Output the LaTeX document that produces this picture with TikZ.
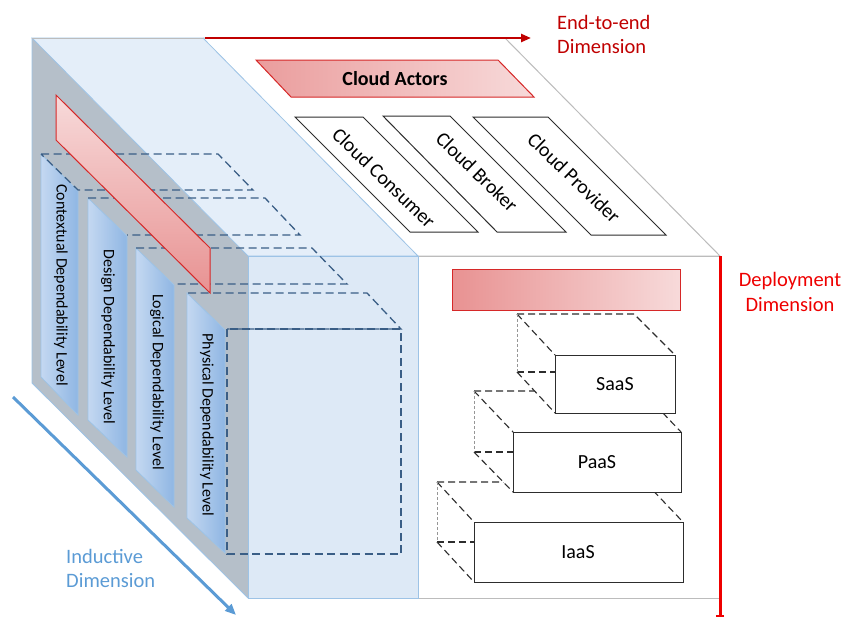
\documentclass[tikz,border=0pt]{standalone}
\usepackage{fontspec}
\setmainfont{Carlito}
\usetikzlibrary{arrows.meta}

\definecolor{sidegray}{RGB}{181,191,201}
\definecolor{topblue}{RGB}{228,238,249}
\definecolor{frontblue}{RGB}{221,233,246}
\definecolor{edgeblue}{RGB}{157,195,230}
\definecolor{planeblue}{RGB}{58,94,134}
\definecolor{stripL}{RGB}{196,216,241}
\definecolor{stripR}{RGB}{143,182,227}
\definecolor{pinkL}{RGB}{247,218,218}
\definecolor{pinkD}{RGB}{232,146,146}
\definecolor{barred}{RGB}{214,40,40}
\definecolor{darkred}{RGB}{192,0,0}
\definecolor{brightred}{RGB}{238,0,0}
\definecolor{office}{RGB}{91,155,213}
\definecolor{rimgray}{RGB}{188,188,188}
\definecolor{boxline}{RGB}{45,45,45}

\begin{document}
\begin{tikzpicture}[x=1pt,y=-1pt,
  rim/.style={draw=rimgray,line width=1pt},
  blueedge/.style={draw=edgeblue,line width=0.8pt},
  strip/.style={left color=stripL,right color=stripR,draw=edgeblue,line width=0.8pt},
  planeline/.style={draw=planeblue,line width=1.3pt,dash pattern=on 8pt off 4.5pt},
  redshape/.style={draw=barred,line width=1pt},
  actorbox/.style={draw=boxline,fill=white,line width=1pt},
  leveltext/.style={rotate=-90,inner sep=0pt,font=\fontsize{16}{19}\selectfont},
  actortext/.style={rotate=-44,inner sep=0pt,font=\fontsize{20}{24}\selectfont},
  boxtext/.style={inner sep=0pt,font=\fontsize{20}{24}\selectfont},
  dimtext/.style={inner sep=0pt,align=left,font=\fontsize{20.5}{24.5}\selectfont},
  hidden/.style={draw=boxline,line width=1.1pt,dash pattern=on 7pt off 4pt},
  hiddenlight/.style={draw=boxline!50,line width=0.8pt,dash pattern=on 3pt off 2pt},
]
\useasboundingbox (0,0) rectangle (859,619);

% ---------- cube faces ----------
% left (side) face
\fill[sidegray] (32,38) -- (248,256) -- (248,598) -- (32,383) -- cycle;
\draw[blueedge] (32,38) -- (32,383) -- (248,598);
% top face, white right part
\fill[white] (203,38) -- (505,38) -- (720,256) -- (418,256) -- cycle;
\draw[rim] (203,38) -- (505,38) -- (720,256) -- (418,256);
% top face, blue left part
\filldraw[fill=topblue,draw=edgeblue,line width=0.8pt] (32,38) -- (203,38) -- (418,256) -- (248,256) -- cycle;
\draw[rim] (32,38) -- (203,38);
% front face, white right part
\draw[rim] (418,256) -- (720,256);
\draw[rim] (418,598) -- (720,598);
% front face, blue left part
\filldraw[fill=frontblue,draw=edgeblue,line width=0.8pt] (248,256) rectangle (418,598);

% ---------- dependability levels on the side face ----------
\path[strip] (41,154) -- (78,191) -- (78,415) -- (41,377) -- cycle;
\path[strip] (88,198) -- (127,236) -- (127,457) -- (88,420) -- cycle;
\path[strip] (136,248) -- (174,285) -- (174,507) -- (136,470) -- cycle;
\path[strip] (187,293) -- (225,330) -- (225,553) -- (187,518) -- cycle;

\node[leveltext] (ctx)  at (61,285)  {Contextual Dependability Level};
\node[leveltext] (dsg)  at (108,337) {Design Dependability Level};
\node[leveltext] (lgc)  at (157,382) {Logical Dependability Level};
\node[leveltext] (phy)  at (207,425) {Physical Dependability Level};

% dashed level planes
\draw[planeline] (41,154) -- (218,154) -- (253,190) -- (78,190) -- cycle;
\draw[planeline] (88,198) -- (265,198) -- (300,235) -- (127,235);
\draw[planeline] (136,248) -- (312,248) -- (347,284) -- (176,284);
\draw[planeline] (188,293) -- (367,293) -- (401,329) -- (227,329);
\draw[planeline] (227,329) rectangle (401,554);

% red band across the side face
\path[redshape,top color=pinkL,bottom color=pinkD]
  (56,95) -- (210,248) -- (210,293) -- (56,140) -- cycle;

% ---------- cloud actors on the top face ----------
\path[redshape,left color=pinkD!85!pinkL,right color=pinkL]
  (256,60) -- (498,60) -- (534,97) -- (291,97) -- cycle;
\node[boxtext,font=\fontsize{20}{24}\selectfont\bfseries] (actors) at (395,79) {Cloud Actors};

\draw[actorbox] (295,117) -- (363,117) -- (478,232) -- (410,232) -- cycle;
\draw[actorbox] (383,116) -- (450,116) -- (566,232) -- (497,232) -- cycle;
\draw[actorbox] (473,117) -- (548,117) -- (666,235) -- (591,235) -- cycle;
\node[actortext] (consumer) at (384,178) {Cloud Consumer};
\node[actortext] (broker)   at (477,172) {Cloud Broker};
\node[actortext] (provider) at (574,178) {Cloud Provider};

% ---------- service models on the front face ----------
\path[redshape,left color=pinkD,right color=pinkL] (452,269) rectangle (680,310);

% IaaS
\fill[white] (437,482) -- (645,482) -- (683,522) -- (683,582) -- (474,582) -- (437,542) -- cycle;
\draw[hidden] (437,482) -- (645,482) -- (683,522);
\draw[hidden] (437,482) -- (474,522);
\draw[hidden] (437,542) -- (474,542);
\draw[hidden] (437,542) -- (474,582);
\draw[hiddenlight] (437,482) -- (437,542);
\draw[actorbox] (474,522) rectangle (683,582);
\node[boxtext] (iaas) at (578,552) {IaaS};

% PaaS
\fill[white] (474,391) -- (642,391) -- (681,432) -- (681,492) -- (513,492) -- (474,452) -- cycle;
\draw[hidden] (474,391) -- (642,391) -- (681,432);
\draw[hidden] (474,391) -- (513,432);
\draw[hidden] (474,452) -- (513,452);
\draw[hidden] (474,452) -- (513,492);
\draw[hiddenlight] (474,391) -- (474,452);
\draw[actorbox] (513,432) rectangle (681,492);
\node[boxtext] (paas) at (597,462) {PaaS};

% SaaS
\fill[white] (517,314) -- (634,314) -- (675,355) -- (675,413) -- (555,413) -- (517,372) -- cycle;
\draw[hidden] (517,314) -- (634,314) -- (675,355);
\draw[hidden] (517,314) -- (555,355);
\draw[hidden] (517,372) -- (555,372);
\draw[hidden] (517,372) -- (555,413);
\draw[hiddenlight] (517,314) -- (517,372);
\draw[actorbox] (555,355) rectangle (675,413);
\node[boxtext] (saas) at (615,384) {SaaS};

% ---------- dimension axes ----------
\coordinate (e2eA) at (205,38);
\coordinate (e2eB) at (531,38);
\draw[darkred,line width=2.4pt,-{Triangle[length=10pt,width=8pt]}] (e2eA) -- (e2eB);
\node[dimtext,text=darkred,anchor=north west] (e2e) at (557,15) {End-to-end\\Dimension};

\coordinate (depA) at (720,256);
\coordinate (depB) at (720,617);
\draw[brightred,line width=3pt,-{Bar[width=8pt,line width=1.6pt]}] (depA) -- (depB);
\node[dimtext,text=brightred,align=center] (dep) at (790,292) {Deployment\\Dimension};

\coordinate (indA) at (13,397);
\coordinate (indB) at (236,615);
\draw[office,line width=3pt,-{Triangle[length=11pt,width=9pt]}] (indA) -- (indB);
\node[dimtext,text=office,anchor=north west] (ind) at (66,549) {Inductive\\Dimension};

\end{tikzpicture}
\end{document}
